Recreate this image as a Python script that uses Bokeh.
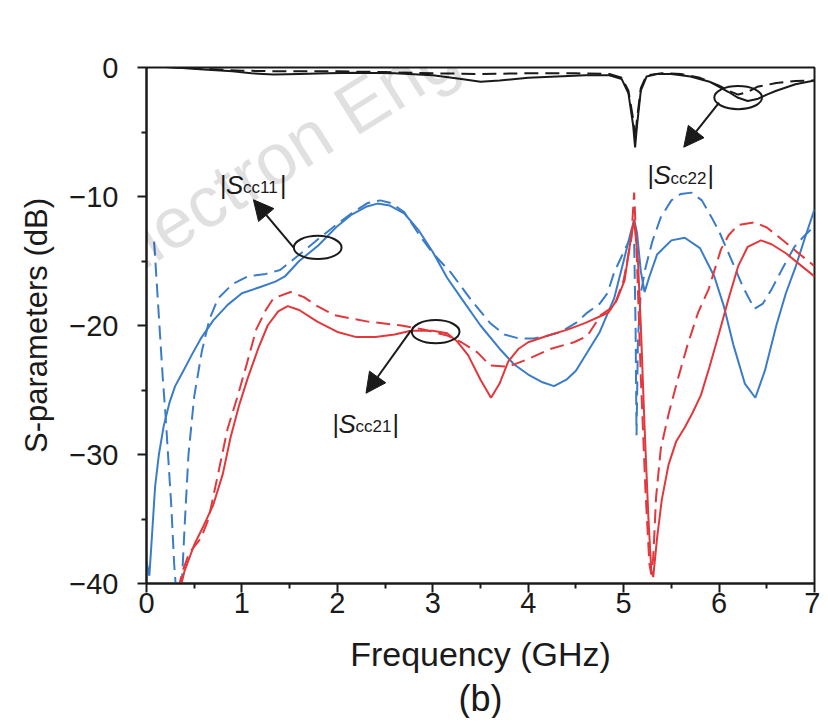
from bokeh.plotting import figure
from bokeh.models import (FixedTicker, CustomJSTickFormatter, Range1d, Arrow, NormalHead,
                          Label, Title)
from bokeh.core.properties import value
from bokeh.embed import file_html
from bokeh.resources import INLINE

# ---------------- data ----------------
# |Scc11| solid
f_s11_solid = [0.00, 0.03, 0.06, 0.09, 0.13, 0.18, 0.24, 0.30, 0.38, 0.48, 0.57, 0.70, 0.85, 1.00,
               1.20, 1.35, 1.45, 1.60, 1.80, 2.00, 2.15, 2.30, 2.42, 2.55, 2.70, 2.85, 3.00, 3.15,
               3.30, 3.50, 3.70, 3.85, 4.00, 4.15, 4.27, 4.40, 4.50, 4.60, 4.75, 4.90, 5.00, 5.06,
               5.11, 5.14, 5.18, 5.22, 5.27, 5.35, 5.50, 5.64, 5.80, 5.95, 6.05, 6.15, 6.27, 6.38,
               6.48, 6.60, 6.70, 6.80, 6.90, 7.00]
s11_solid = [-38.3, -39.4, -36.0, -32.5, -30.0, -27.8, -26.0, -24.7, -23.6, -22.2, -21.0, -19.6, -18.4, -17.5,
             -17.0, -16.6, -16.2, -15.0, -13.8, -12.3, -11.4, -10.8, -10.55, -10.7, -11.3, -12.6, -14.3, -16.3,
             -17.9, -20.0, -21.8, -23.0, -23.8, -24.4, -24.7, -24.2, -23.5, -22.3, -20.5, -17.9, -15.0, -13.2,
             -11.8, -12.8, -15.8, -17.4, -16.2, -14.5, -13.4, -13.2, -14.0, -16.2, -18.5, -21.5, -24.5, -25.6,
             -23.5, -20.0, -17.5, -15.5, -13.2, -11.0]

# |Scc11| dashed
f_s11_dash = [0.08, 0.11, 0.14, 0.17, 0.20, 0.23, 0.26, 0.29, 0.32, 0.37, 0.40, 0.44, 0.50, 0.58, 0.66,
              0.75, 0.90, 1.06, 1.25, 1.40, 1.62, 1.80, 1.97, 2.15, 2.32, 2.45, 2.56, 2.70, 2.87, 3.00,
              3.19, 3.40, 3.60, 3.75, 3.90, 4.06, 4.20, 4.34, 4.50, 4.62, 4.75, 4.83, 4.90, 5.00, 5.08,
              5.11, 5.125, 5.135, 5.15, 5.18, 5.23, 5.30, 5.39, 5.50, 5.60, 5.71, 5.82, 5.92, 6.00,
              6.10, 6.25, 6.37, 6.46, 6.55, 6.67, 6.79, 6.90, 7.00]
s11_dash = [-13.5, -17.0, -20.5, -24.0, -27.0, -30.5, -34.0, -38.5, -41.5, -40.0, -35.5, -30.0, -25.5, -22.0, -19.5,
            -17.9, -16.8, -16.2, -16.0, -15.7, -14.4, -13.3, -12.3, -11.3, -10.5, -10.3, -10.5, -11.2, -13.1, -14.4,
            -15.9, -18.0, -19.8, -20.7, -21.0, -21.0, -20.8, -20.5, -19.8, -19.0, -18.3, -17.5, -15.9, -14.3, -13.1,
            -13.5, -20.0, -28.5, -21.0, -17.5, -15.5, -13.5, -11.6, -10.3, -9.8, -9.7, -10.3, -11.6, -12.7,
            -14.4, -17.0, -18.7, -18.3, -17.2, -15.5, -13.9, -13.0, -12.3]

# |Scc21| solid
f_s21_solid = [0.35, 0.40, 0.50, 0.60, 0.70, 0.80, 0.88, 0.97, 1.06, 1.17, 1.27, 1.38, 1.48, 1.60, 1.79,
               2.00, 2.20, 2.40, 2.60, 2.77, 3.00, 3.15, 3.25, 3.37, 3.50, 3.61, 3.70, 3.79, 3.90, 4.00,
               4.20, 4.42, 4.60, 4.75, 4.84, 4.93, 5.01, 5.06, 5.11, 5.15, 5.18, 5.22, 5.26, 5.29, 5.31,
               5.35, 5.40, 5.47, 5.55, 5.64, 5.72, 5.81, 5.90, 6.00, 6.10, 6.20, 6.30, 6.44, 6.55, 6.70,
               6.85, 7.00]
s21_solid = [-40.5, -39.0, -37.0, -35.5, -33.9, -31.5, -28.7, -26.2, -24.1, -21.8, -20.0, -18.9, -18.5, -18.8, -19.7,
             -20.5, -20.9, -20.9, -20.7, -20.4, -20.4, -20.6, -21.2, -22.3, -24.2, -25.6, -24.5, -22.8, -21.8, -21.3,
             -20.8, -20.3, -19.8, -19.3, -19.0, -18.0, -16.5, -14.0, -11.8, -15.0, -20.0, -28.0, -35.0, -39.0, -39.5,
             -36.5, -33.5, -30.8, -29.0, -27.9, -26.8, -25.4, -23.2, -20.6, -17.9, -15.4, -13.9, -13.4, -13.7, -14.4,
             -15.3, -16.2]

# |Scc21| dashed
f_s21_dash = [0.33, 0.38, 0.45, 0.57, 0.65, 0.75, 0.85, 0.95, 1.05, 1.15, 1.25, 1.33, 1.51, 1.65, 1.79,
              1.97, 2.32, 2.67, 2.90, 3.16, 3.30, 3.47, 3.60, 3.79, 4.00, 4.24, 4.48, 4.62, 4.76, 4.90,
              5.00, 5.08, 5.11, 5.14, 5.18, 5.23, 5.27, 5.29, 5.31, 5.34, 5.39, 5.47, 5.57, 5.67, 5.78,
              5.89, 6.02, 6.10, 6.20, 6.37, 6.50, 6.62, 6.80, 7.00]
s21_dash = [-40.5, -39.0, -37.6, -36.5, -35.0, -31.5, -28.0, -25.6, -23.0, -20.3, -18.8, -17.9, -17.4, -17.8, -18.5,
            -19.2, -19.7, -20.0, -20.3, -20.8, -21.3, -22.1, -23.1, -23.2, -22.6, -21.8, -21.3, -20.8, -19.2, -18.5,
            -16.5, -13.3, -9.7, -15.0, -24.0, -33.0, -38.5, -39.3, -38.0, -33.3, -29.5, -26.9, -24.1, -21.5, -19.0,
            -17.2, -14.1, -13.0, -12.2, -12.0, -12.4, -13.1, -14.2, -15.4]

# |Scc22| solid
f_s22_solid = [0.00, 0.10, 0.30, 0.60, 0.90, 1.10, 1.33, 1.60, 1.90, 2.20, 2.60, 3.00, 3.30, 3.50, 3.70,
               4.00, 4.30, 4.60, 4.85, 4.98, 5.05, 5.10, 5.12, 5.14, 5.18, 5.24, 5.35, 5.50, 5.70, 5.90,
               6.00, 6.10, 6.20, 6.30, 6.40, 6.50, 6.60, 6.80, 7.00]
s22_solid = [0.0, 0.15, 0.0, -0.15, -0.3, -0.45, -0.55, -0.5, -0.45, -0.4, -0.45, -0.6, -0.9, -1.1, -1.0,
             -0.8, -0.7, -0.6, -0.6, -0.9, -2.0, -4.5, -6.2, -4.5, -1.8, -0.7, -0.5, -0.5, -0.7, -1.1,
             -1.5, -1.9, -2.35, -2.6, -2.45, -2.1, -1.8, -1.3, -1.0]

# |Scc22| dashed
f_s22_dash = [0.00, 0.30, 0.60, 1.00, 1.50, 2.00, 2.50, 3.00, 3.50, 4.00, 4.50, 4.85, 4.98, 5.05, 5.10,
              5.12, 5.14, 5.18, 5.24, 5.40, 5.60, 5.80, 6.00, 6.10, 6.20, 6.30, 6.40, 6.60, 6.80, 7.00]
s22_dash = [0.1, 0.0, -0.1, -0.25, -0.3, -0.3, -0.35, -0.45, -0.5, -0.45, -0.45, -0.5, -0.8, -1.8, -4.0,
            -5.6, -4.0, -1.6, -0.6, -0.45, -0.5, -0.8, -1.4, -1.8, -2.1, -1.9, -1.5, -1.2, -1.05, -1.0]

x_ticks = [0, 1, 2, 3, 4, 5, 6, 7]
x_minor = [0.5, 1.5, 2.5, 3.5, 4.5, 5.5, 6.5]
y_ticks = [-40, -30, -20, -10, 0]
y_minor = [-35, -25, -15, -5]

BLUE = "#3a7cc8"
RED = "#e2383c"
BLACK = "#1a1a1a"
FONT = "Liberation Sans"

p = figure(width=820, height=718, output_backend="svg", toolbar_location=None,
           x_range=Range1d(0, 7), y_range=Range1d(-40, 0),
           min_border_left=146, min_border_right=6, min_border_top=67, min_border_bottom=132)

p.grid.visible = False
p.outline_line_color = BLACK
p.outline_line_width = 2
p.background_fill_color = "white"
p.border_fill_color = "white"

# watermark (light, partly outside the visible part in the original)
p.add_layout(Label(x=-1.154, y=-18.64, text="ol Electron Eng", angle=0.56,
                   text_font=FONT, text_font_size="72px", text_color="#000000",
                   text_alpha=0.12, text_baseline="alphabetic", text_align="left"))

# curves
p.line(f_s22_dash, s22_dash, line_color=BLACK, line_width=2, line_dash="14 7")
p.line(f_s22_solid, s22_solid, line_color=BLACK, line_width=2)
p.line(f_s11_dash, s11_dash, line_color=BLUE, line_width=2, line_dash="14 7")
p.line(f_s11_solid, s11_solid, line_color=BLUE, line_width=2)
p.line(f_s21_dash, s21_dash, line_color=RED, line_width=2, line_dash="14 7")
p.line(f_s21_solid, s21_solid, line_color=RED, line_width=2)

# axes
for ax in (p.xaxis[0], p.yaxis[0]):
    ax.axis_line_width = 2
    ax.axis_line_color = BLACK
    ax.major_tick_line_width = 2
    ax.minor_tick_line_width = 2
    ax.major_tick_line_color = BLACK
    ax.minor_tick_line_color = BLACK
    ax.major_tick_out = 9
    ax.major_tick_in = 0
    ax.minor_tick_out = 5
    ax.minor_tick_in = 0
    ax.major_label_text_font = FONT
    ax.major_label_text_font_size = "29px"
    ax.major_label_text_color = BLACK
    ax.axis_label_text_font = FONT
    ax.axis_label_text_font_style = "normal"
    ax.axis_label_text_color = BLACK

p.xaxis.axis_label_text_font_size = "34px"
p.yaxis.axis_label_text_font_size = "31px"
p.xaxis.ticker = FixedTicker(ticks=x_ticks, minor_ticks=x_minor)
p.yaxis.ticker = FixedTicker(ticks=y_ticks, minor_ticks=y_minor)
p.yaxis.formatter = CustomJSTickFormatter(
    code="return tick < 0 ? '\\u2212' + Math.abs(tick) : String(tick);")
p.xaxis.axis_label = "Frequency (GHz)"
p.yaxis.axis_label = "S-parameters (dB)"
p.xaxis.major_label_standoff = 0
p.yaxis.major_label_standoff = 19
p.xaxis.axis_label_standoff = 19
p.yaxis.axis_label_standoff = 12

p.add_layout(Title(text="(b)", align="center", text_font=FONT, text_font_size="36px",
                   text_font_style="normal", text_color=BLACK, standoff=0), "below")

# annotations: ellipses + arrows + labels
def annotate(ex, ey, ax0, ay0, ax1, ay1, lx, ly, sub):
    p.ellipse(x=[ex], y=[ey], width=0.5, height=1.8, fill_color=None,
              line_color=BLACK, line_width=2)
    p.add_layout(Arrow(x_start=ax0, y_start=ay0, x_end=ax1, y_end=ay1,
                       line_color=BLACK, line_width=2,
                       end=NormalHead(size=20, fill_color=BLACK, line_color=BLACK, line_width=1)))
    common = dict(text_font=value(FONT), text_color=BLACK, text_baseline="alphabetic",
                  text_align="left")
    p.text(x=[lx], y=[ly], text=["|"], text_font_size="25px", **common)
    p.text(x=[lx], y=[ly], text=["S"], x_offset=6, text_font_size="26px",
           text_font_style="italic", **common)
    p.text(x=[lx], y=[ly], text=[sub], x_offset=23, y_offset=3, text_font_size="17px", **common)
    p.text(x=[lx], y=[ly], text=["|"], x_offset=23 + 2.112 * 17 + 1, text_font_size="25px", **common)

annotate(1.794, -13.95, 1.54, -13.95, 1.12, -10.25, 0.77, -9.1, "cc11")
annotate(3.03, -20.48, 2.77, -20.4, 2.30, -25.25, 1.95, -27.6, "cc21")
annotate(6.20, -2.33, 6.00, -2.72, 5.63, -6.18, 5.25, -8.35, "cc22")

open("out.html", "w").write(file_html(p, INLINE))
